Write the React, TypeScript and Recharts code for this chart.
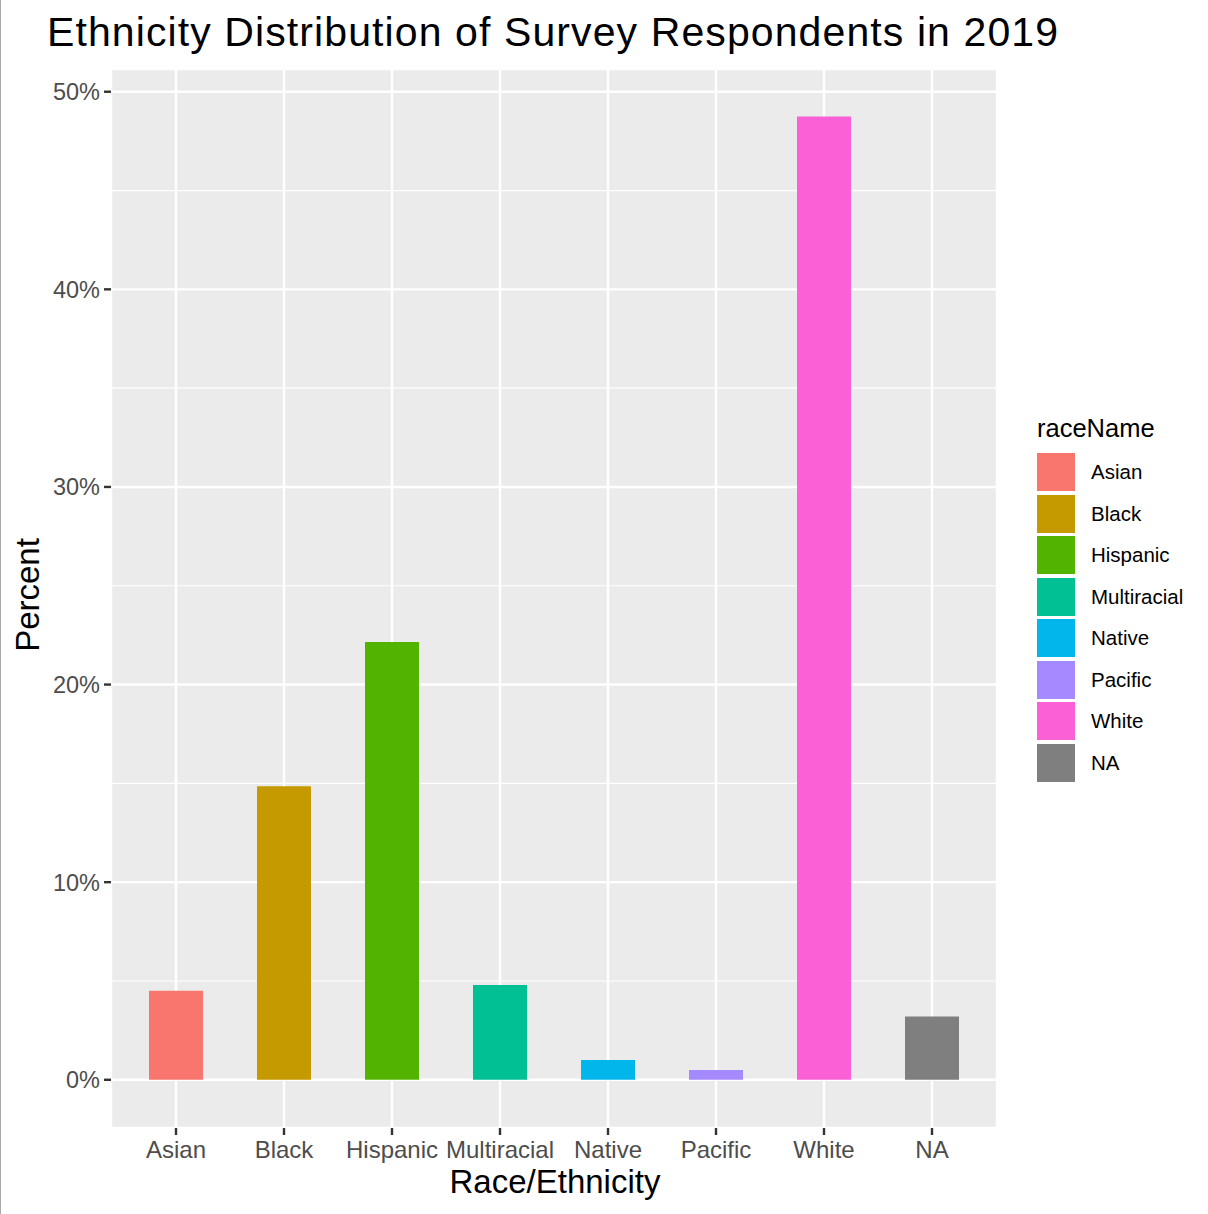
import { BarChart, Bar, XAxis, YAxis, CartesianGrid, Cell } from "recharts";

const categories = ["Asian", "Black", "Hispanic", "Multiracial", "Native", "Pacific", "White", "NA"];
const percents = [4.5, 14.85, 22.15, 4.8, 1.0, 0.5, 48.75, 3.2];
const colors = ["#F8766D", "#C49A00", "#53B400", "#00C094", "#00B6EB", "#A58AFF", "#FB61D7", "#7F7F7F"];
const yTicks = [0, 10, 20, 30, 40, 50];
const minorTicks = [5, 15, 25, 35, 45];
const yDomain = [-2.44, 51.15];

const data = categories.map((name, i) => ({ raceName: name, percent: percents[i] }));

const FONT = "'Liberation Sans', Arial, sans-serif";

export default function App() {
  return (
    <div
      style={{
        position: "absolute",
        left: 0,
        top: 0,
        width: 1208,
        height: 1214,
        background: "#fff",
        fontFamily: FONT,
        borderLeft: "1px solid #a8a8a8",
        boxSizing: "border-box",
      }}
    >
      <BarChart
        width={1207}
        height={1214}
        data={data}
        margin={{ top: 69, right: 211, bottom: 0, left: 0 }}
        barCategoryGap="25%"
        style={{ position: "absolute", left: 0, top: 0 }}
      >
        <CartesianGrid fill="#EBEBEB" stroke="#FFFFFF" strokeWidth={2.4} />
        {/* minor gridlines, from a hidden axis */}
        <CartesianGrid yAxisId="minor" vertical={false} stroke="#FFFFFF" strokeWidth={1.2} />
        <XAxis
          dataKey="raceName"
          height={86}
          padding={{ left: 11, right: 11 }}
          axisLine={false}
          tickSize={7}
          tickMargin={6}
          tickLine={{ stroke: "#333333", strokeWidth: 2.4 }}
          tick={{ fill: "#4D4D4D", fontSize: 24, fontFamily: FONT }}
          interval={0}
        />
        <YAxis
          width={110}
          domain={yDomain}
          ticks={yTicks}
          allowDataOverflow
          axisLine={false}
          tickSize={7}
          tickMargin={4}
          tickLine={{ stroke: "#333333", strokeWidth: 2.4 }}
          tick={{ fill: "#4D4D4D", fontSize: 23.5, fontFamily: FONT }}
          tickFormatter={(v) => `${v}%`}
        />
        <YAxis yAxisId="minor" hide domain={yDomain} ticks={minorTicks} allowDataOverflow />
        <Bar dataKey="percent" isAnimationActive={false}>
          {data.map((d, i) => (
            <Cell key={d.raceName} fill={colors[i]} />
          ))}
        </Bar>
      </BarChart>

      <div
        style={{
          position: "absolute",
          left: 46,
          top: 12,
          fontSize: 41,
          letterSpacing: 1.1,
          lineHeight: 1,
          color: "#000",
          whiteSpace: "nowrap",
        }}
      >
        Ethnicity Distribution of Survey Respondents in 2019
      </div>

      <div
        style={{
          position: "absolute",
          left: 26,
          top: 595,
          fontSize: 33,
          lineHeight: 1,
          color: "#000",
          whiteSpace: "nowrap",
          transform: "translate(-50%, -50%) rotate(-90deg)",
        }}
      >
        Percent
      </div>

      <div
        style={{
          position: "absolute",
          left: 554,
          top: 1165,
          fontSize: 33,
          lineHeight: 1,
          color: "#000",
          whiteSpace: "nowrap",
          transform: "translateX(-50%)",
        }}
      >
        Race/Ethnicity
      </div>

      <div style={{ position: "absolute", left: 1036, top: 416, fontSize: 25.5, lineHeight: 1, color: "#000" }}>raceName</div>
      {categories.map((name, i) => (
        <div key={name} style={{ position: "absolute", left: 1036, top: 453 + i * 41.5, height: 38, display: "flex" }}>
          <div style={{ width: 38, height: 38, background: colors[i] }} />
          <div style={{ marginLeft: 16, fontSize: 20.5, lineHeight: "38px", color: "#000" }}>{name}</div>
        </div>
      ))}
    </div>
  );
}
